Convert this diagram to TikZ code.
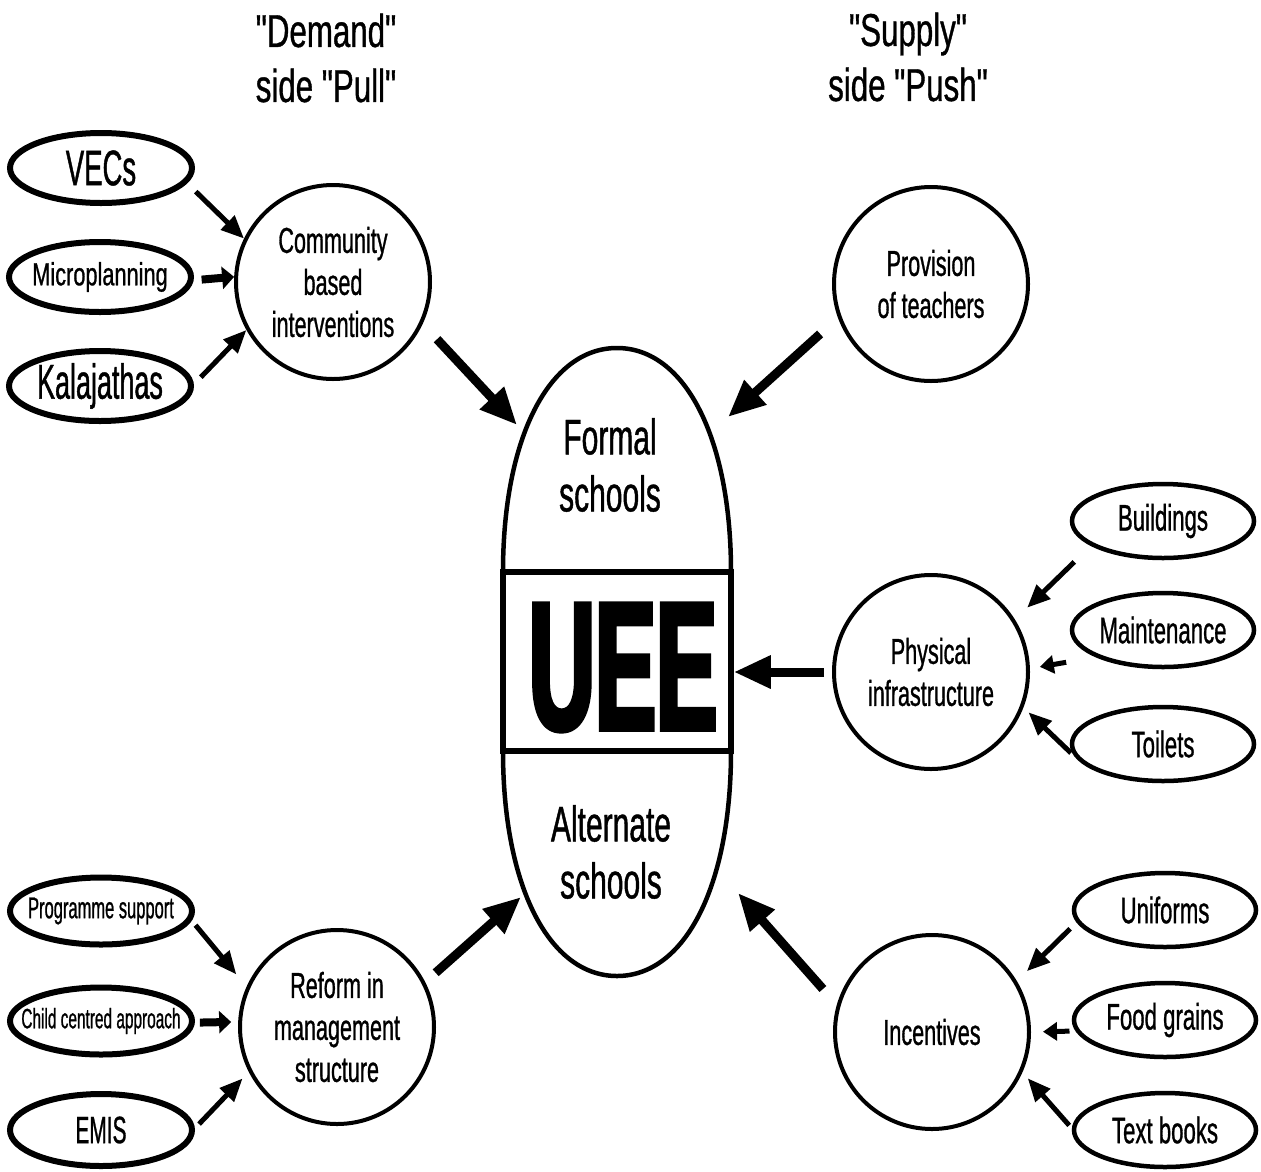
\documentclass[tikz,border=0pt]{standalone}
\usepackage{fontspec}
\usepackage{graphicx}
\setmainfont{Liberation Sans}
\newfontfamily\fN{Liberation Sans}[FakeStretch=0.6, FakeBold=0.8]
\newfontfamily\fT{Liberation Sans}[FakeStretch=0.68, FakeBold=0.8]
\newfontfamily\fC{Liberation Sans}[FakeStretch=0.55, FakeBold=0.8]
\newfontfamily\fU{Liberation Sans}[FakeStretch=0.5, FakeBold=2.5]
\usetikzlibrary{shapes.geometric,arrows.meta}
\begin{document}
\begin{tikzpicture}[x=1pt,y=1pt,
  circ/.style={circle, draw, line width=4pt, minimum size=194pt, inner sep=0pt, align=center,
    font=\fN\fontsize{36}{42}\selectfont},
  lov/.style={ellipse, draw, line width=6pt, minimum width=182pt, minimum height=70pt, inner sep=0pt},
  rov/.style={ellipse, draw, line width=4.5pt, minimum width=182pt, minimum height=74pt, inner sep=0pt,
    font=\fN\fontsize{37}{37}\selectfont},
  title/.style={align=center, font=\fT\fontsize{46}{55}\selectfont, inner sep=0pt},
  big/.style={line width=9pt, -{Triangle[length=37pt,width=31pt]}},
  small/.style={line width=5pt, -{Triangle[length=23pt,width=19pt]}},
  stub/.style={line width=8pt, -{Triangle[length=12pt,width=22pt]}},
  stubb/.style={line width=5pt, -{Triangle[length=14pt,width=18pt]}},
  outline/.style={line width=4.5pt}
]
\fill[white] (0,0) rectangle (1261,-1171);
\useasboundingbox (0,0) rectangle (1261,-1171);

% titles
\node[title] (tdem) at (326,-58) {"Demand"\\side "Pull"};
\node[title] (tsup) at (908,-57) {"Supply"\\side "Push"};

% central shape
\draw[outline] (503,-572) .. controls (503,-438) and (549,-348) .. (617,-348)
  .. controls (685,-348) and (731,-438) .. (731,-572);
\draw[outline] (731,-751) .. controls (731,-886) and (685,-976) .. (617,-976)
  .. controls (549,-976) and (503,-886) .. (503,-751);
\node[draw, line width=5.5pt, minimum width=228pt, minimum height=179pt, inner sep=0pt] (uee) at (617,-661.5) {};
\node[inner sep=0pt, font=\fU\bfseries\fontsize{183}{183}\selectfont] (ueet) at (623,-667.5) {UEE};
\node[inner sep=0pt, align=center, font=\fN\fontsize{50}{57}\selectfont] (formal) at (610,-465) {Formal\\schools};
\node[inner sep=0pt, align=center, font=\fN\fontsize{50}{57}\selectfont] (altern) at (611,-852) {Alternate\\schools};
\coordinate (fA) at (517,-425);
\coordinate (fB) at (728,-417);
\coordinate (aA) at (521,-897);
\coordinate (aB) at (738,-893);

% circles
\node[circ] (comm) at (333,-282) {Community\\based\\interventions};
\node[circ] (prov) at (931,-284) {Provision\\of teachers};
\node[circ] (phys) at (931,-672) {Physical\\infrastructure};
\node[circ] (reform) at (337,-1027) {Reform in\\management\\structure};
\node[circ] (inc) at (932,-1032) {Incentives};

% left ellipses
\node[lov, font=\fC\fontsize{50}{50}\selectfont] (vecs) at (101,-168) {\makebox[0pt]{VECs}};
\node[lov, font=\fT\fontsize{32}{32}\selectfont] (micro) at (100,-277) {\makebox[0pt]{Microplanning}};
\node[lov, font=\fC\fontsize{49}{49}\selectfont] (kala) at (100,-386) {\makebox[0pt]{Kalajathas}};
\node[lov, minimum height=67pt, font=\fC\fontsize{30}{30}\selectfont] (prog) at (101,-911) {\makebox[0pt]{Programme support}};
\node[lov, minimum height=67pt, font=\fC\fontsize{28}{28}\selectfont] (child) at (101,-1021) {\makebox[0pt]{Child centred approach}};
\node[lov, minimum height=72pt, font=\fC\fontsize{38}{38}\selectfont] (emis) at (101,-1130) {\makebox[0pt]{EMIS}};

% right ellipses
\node[rov] (build) at (1163,-521) {\makebox[0pt]{Buildings}};
\node[rov] (maint) at (1163,-630) {\makebox[0pt]{Maintenance}};
\node[rov] (toil) at (1163,-744) {\makebox[0pt]{Toilets}};
\node[rov] (unif) at (1165,-910) {\makebox[0pt]{Uniforms}};
\node[rov] (food) at (1165,-1020) {\makebox[0pt]{Food grains}};
\node[rov] (text) at (1165,-1130) {\makebox[0pt]{Text books}};

% arrows into circles
\draw[small, shorten <=12pt] (vecs.-10) -- (comm.154);
\draw[stub, shorten <=8pt] (micro.-2) -- (comm.177);
\draw[small, shorten <=10pt] (kala.1) -- (comm.209);
\draw[small, shorten <=23pt, shorten >=17pt] (build.199) -- (phys.32);
\draw[stubb, shorten <=30pt, shorten >=10pt] (maint.202) -- (phys.2);
\draw[small, shorten <=5pt, shorten >=7pt] (toil.188) -- (phys.-21);
\draw[small, shorten <=6pt, shorten >=16pt] (prog.-6) -- (reform.156);
\draw[stub, shorten <=5pt, shorten >=7pt] (child.-1) -- (reform.177);
\draw[small, shorten <=6pt, shorten >=9pt] (emis.1) -- (reform.207);
\draw[small, shorten <=9pt, shorten >=14pt] (unif.188) -- (inc.31);
\draw[stubb, shorten <=6pt, shorten >=12pt] (food.187) -- (inc.0);
\draw[small, shorten <=4pt, shorten >=8pt] (text.179) -- (inc.-24);

% arrows into the centre
\draw[big, shorten <=21pt] (comm.-25) -- (fA);
\draw[big, shorten <=24pt] (prov.200) -- (fB);
\draw[big, shorten <=8pt] (phys.west) -- (phys.west -| uee.east);
\draw[big, shorten <=14pt] (reform.27) -- (aA);
\draw[big, shorten <=21pt] (inc.164) -- (aB);
\end{tikzpicture}
\end{document}
